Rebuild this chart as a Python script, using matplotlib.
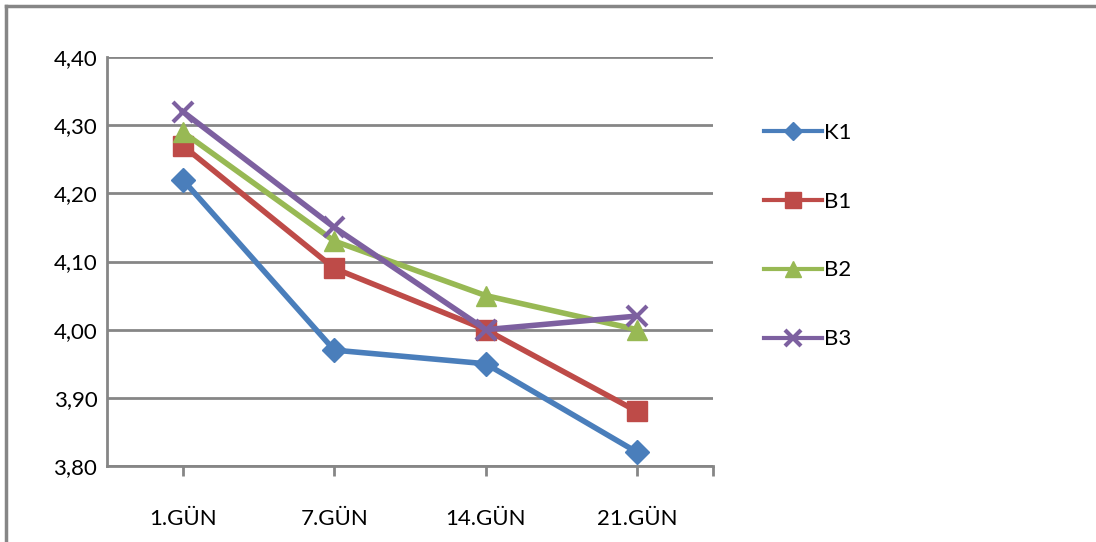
import matplotlib.pyplot as plt
from matplotlib.lines import Line2D

# data
days = ['1.GÜN', '7.GÜN', '14.GÜN', '21.GÜN']
k1 = [4.22, 3.97, 3.95, 3.82]
b1 = [4.27, 4.09, 4.00, 3.88]
b2 = [4.29, 4.13, 4.05, 4.00]
b3 = [4.32, 4.15, 4.00, 4.02]
yticks = [3.80, 3.90, 4.00, 4.10, 4.20, 4.30, 4.40]

plt.rcParams['font.family'] = ['Lato', 'DejaVu Sans']
grid_c = '#868686'

W, H = 1096, 542
fig = plt.figure(figsize=(W / 100, H / 100), dpi=100)
ax = fig.add_axes([107 / W, 1 - 466 / H, (713 - 107) / W, (466 - 57) / H])

x = list(range(len(days)))
ax.plot(x, k1, color='#4A7EBB', lw=4, marker='D', ms=12, label='K1')
ax.plot(x, b1, color='#BE4B48', lw=4, marker='s', ms=15, label='B1')
ax.plot(x, b2, color='#98B954', lw=4, marker='^', ms=15, label='B2')
ax.plot(x, b3, color='#7D60A0', lw=4, marker='x', ms=15, mew=3, label='B3')

ax.set_xlim(-0.5, 3.5)
ax.set_ylim(3.80, 4.40)
ax.set_yticks(yticks)
ax.set_yticklabels([f'{v:.2f}'.replace('.', ',') for v in yticks])
ax.set_xticks(x + [3.5])
ax.set_xticklabels(days + [''])
ax.tick_params(axis='x', direction='out', length=7, width=2, color=grid_c,
               labelsize=16, pad=24)
ax.tick_params(axis='y', length=0, labelsize=16, pad=7)
ax.grid(axis='y', color=grid_c, lw=2)
ax.set_axisbelow(True)
for s in ['top', 'right']:
    ax.spines[s].set_visible(False)
for s in ['left', 'bottom']:
    ax.spines[s].set_color(grid_c)
    ax.spines[s].set_linewidth(2)

leg = fig.legend(loc='center left', bbox_to_anchor=(744 / W, 1 - 236 / H),
                 frameon=False, fontsize=16, labelspacing=2.2,
                 handlelength=2.6, handletextpad=0.1, markerscale=0.75)
for ln in leg.get_lines():
    ln.set_linewidth(3)

# outer chart border (top and left edges visible)
fig.add_artist(Line2D([6 / W, 1], [1 - 6 / H, 1 - 6 / H], color=grid_c, lw=2.5))
fig.add_artist(Line2D([6 / W, 6 / W], [0, 1 - 6 / H], color=grid_c, lw=2.5))

fig.savefig('out.png', dpi=100)
